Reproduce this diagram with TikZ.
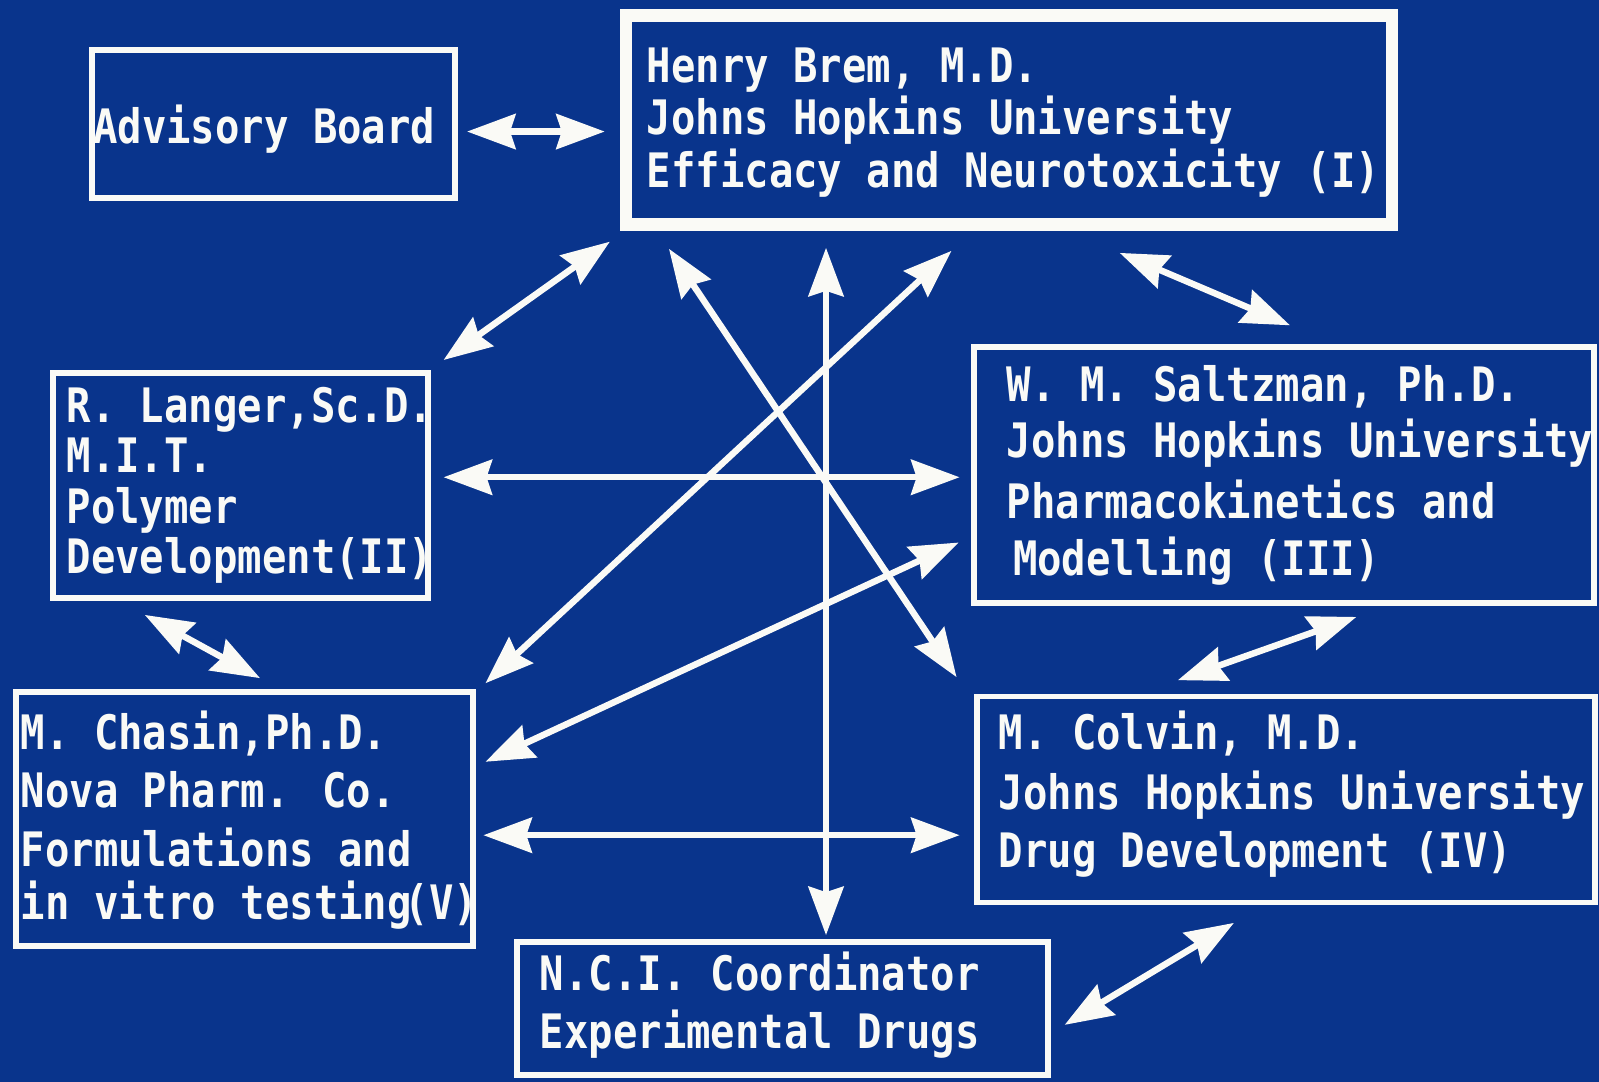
\documentclass[tikz,border=0pt]{standalone}
\usepackage{fontspec}
\newfontfamily\slidefont{DejaVu Sans Mono}[FakeStretch=0.855]
\usetikzlibrary{arrows.meta,fit}
\definecolor{slideblue}{RGB}{9,52,140}
\definecolor{chalk}{RGB}{250,250,246}
\begin{document}
\begin{tikzpicture}[x=0.02cm,y=-0.02cm,
  box/.style={draw=chalk, line width=3.3pt, inner sep=0pt, outer sep=0pt},
  mainbox/.style={box, line width=7pt},
  lbl/.style={anchor=base west, inner sep=0pt, text=chalk,
    font=\slidefont\bfseries\fontsize{26.5}{30}\selectfont},
  arr/.style={draw=chalk, line width=3.6pt,
    {Stealth[length=27pt,width=19.5pt,inset=3pt]}-{Stealth[length=27pt,width=19.5pt,inset=3pt]}},
]
\fill[slideblue] (0,0) rectangle (1568,1061);
\useasboundingbox (0,0) rectangle (1568,1061);

% boxes
\node[box, fit={(90,49) (446,194)}] (adv) {};
\node[mainbox, fit={(614,15) (1365,220)}] (brem) {};
\node[box, fit={(52,366) (420,586)}] (langer) {};
\node[box, fit={(955,340) (1563,591)}] (saltz) {};
\node[box, fit={(16,679) (464,928)}] (chasin) {};
\node[box, fit={(958,683) (1564,885)}] (colvin) {};
\node[box, fit={(507,924) (1028,1054)}] (nci) {};

% texts
\node[lbl] (advT) at (91,141) {Advisory Board};

\node[lbl] (bremA) at (634,81) {Henry Brem, M.D.};
\node[lbl] (bremB) at (634,132) {Johns Hopkins University};
\node[lbl] (bremC) at (634,184) {Efficacy and Neurotoxicity (I)};

\node[lbl] (langA) at (65,414) {R. Langer,Sc.D.};
\node[lbl] (langB) at (65,463) {M.I.T.};
\node[lbl] (langC) at (65,513) {Polymer};
\node[lbl] (langD) at (65,562) {Development(II)};

\node[lbl] (saltA) at (987,394) {W. M. Saltzman, Ph.D.};
\node[lbl] (saltB) at (987,449) {Johns Hopkins University};
\node[lbl] (saltC) at (987,508) {Pharmacokinetics and};
\node[lbl] (saltD) at (993,564) {Modelling (III)};

\node[lbl] (chasA) at (20,735) {M. Chasin,Ph.D.};
\node[lbl] (chasB) at (20,792) {Nova Pharm. Co.};
\node[lbl] (chasC) at (20,850) {Formulations and};
\node[lbl] (chasD) at (20,902) {in vitro testing\kern-0.15em(V)};

\node[lbl] (colvA) at (979,735) {M. Colvin, M.D.};
\node[lbl] (colvB) at (979,794) {Johns Hopkins University};
\node[lbl] (colvC) at (979,851) {Drug Development (IV)};

\node[lbl] (nciA) at (529,971) {N.C.I. Coordinator};
\node[lbl] (nciB) at (529,1028) {Experimental Drugs};

% arrow end points
\coordinate (a1s) at (458,129);  \coordinate (a1e) at (593,129);
\coordinate (a2s) at (598,237);  \coordinate (a2e) at (435,353);
\coordinate (a3s) at (656,244);  \coordinate (a3e) at (938,664);
\coordinate (a4s) at (810,243);  \coordinate (a4e) at (810,917);
\coordinate (a5s) at (933,246);  \coordinate (a5e) at (476,670);
\coordinate (a6s) at (1098,248); \coordinate (a6e) at (1265,319);
\coordinate (a7s) at (435,468);  \coordinate (a7e) at (941,468);
\coordinate (a8s) at (142,603);  \coordinate (a8e) at (255,665);
\coordinate (a9s) at (940,532);  \coordinate (a9e) at (476,747);
\coordinate (a10s) at (1330,605); \coordinate (a10e) at (1155,667);
\coordinate (a11s) at (474,819); \coordinate (a11e) at (941,819);
\coordinate (a12s) at (1210,905); \coordinate (a12e) at (1044,1005);

\draw[arr] (a1s) -- (a1e);
\draw[arr] (a2s) -- (a2e);
\draw[arr] (a3s) -- (a3e);
\draw[arr] (a4s) -- (a4e);
\draw[arr] (a5s) -- (a5e);
\draw[arr] (a6s) -- (a6e);
\draw[arr] (a7s) -- (a7e);
\draw[arr] (a8s) -- (a8e);
\draw[arr] (a9s) -- (a9e);
\draw[arr] (a10s) -- (a10e);
\draw[arr] (a11s) -- (a11e);
\draw[arr] (a12s) -- (a12e);
\end{tikzpicture}
\end{document}
